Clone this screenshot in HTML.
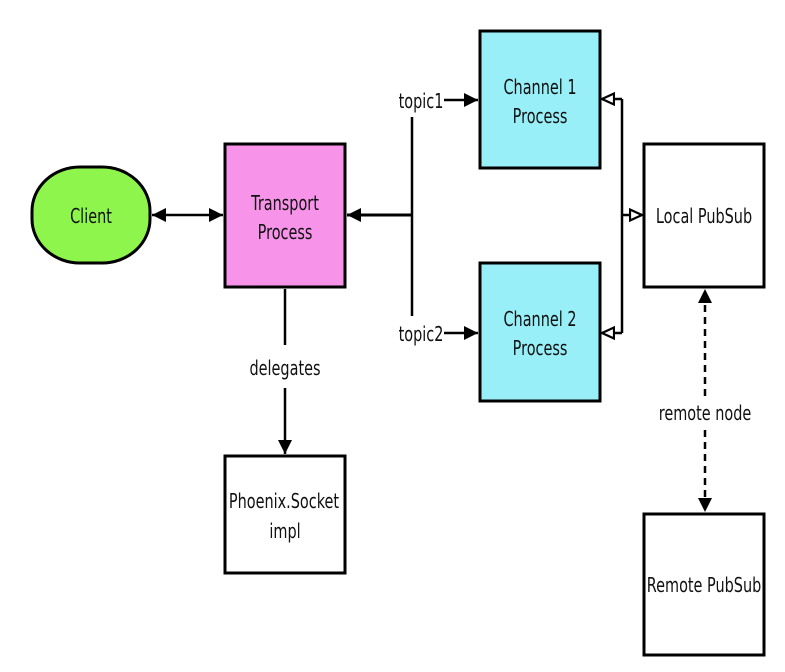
<!DOCTYPE html>
<html><head><meta charset="utf-8"><style>
html,body{margin:0;padding:0;background:#fff;width:785px;height:672px;overflow:hidden}
text{font-family:"DejaVu Sans","Liberation Sans",sans-serif;font-size:17px;fill:#111}
</style></head><body>
<svg width="785" height="672" viewBox="0 0 785 672" xmlns="http://www.w3.org/2000/svg">
<defs>
<marker id="a" viewBox="0 0 14 14" refX="14" refY="7" markerWidth="14" markerHeight="14" markerUnits="userSpaceOnUse" orient="auto-start-reverse"><path d="M0,0 L14,7 L0,14 z" fill="#000"/></marker>
<marker id="h" viewBox="0 0 14 14" refX="13" refY="7" markerWidth="14" markerHeight="14" markerUnits="userSpaceOnUse" orient="auto"><path d="M1,1.5 L13,7 L1,12.5 z" fill="#fff" stroke="#000" stroke-width="2.2"/></marker>
</defs>
<g stroke="#000" stroke-width="3">
<rect x="32" y="167" width="118" height="96" rx="48" ry="44" fill="#8ef54c"/>
<rect x="225" y="144" width="120" height="143" fill="#f794ea"/>
<rect x="480" y="31" width="120" height="137" fill="#98eff7"/>
<rect x="480" y="263" width="120" height="138" fill="#98eff7"/>
<rect x="644" y="144" width="120" height="143" fill="#fff"/>
<rect x="225" y="456" width="120" height="117" fill="#fff"/>
<rect x="644" y="514" width="120" height="141" fill="#fff"/>
</g>
<g stroke="#000" stroke-width="2.5" fill="none">
<line x1="152" y1="215" x2="223" y2="215" marker-start="url(#a)" marker-end="url(#a)"/>
<line x1="412" y1="215" x2="347" y2="215" stroke-width="3" marker-end="url(#a)"/>
<line x1="412" y1="117" x2="412" y2="316"/>
<line x1="444" y1="100" x2="478" y2="100" marker-end="url(#a)"/>
<line x1="444" y1="333" x2="478" y2="333" marker-end="url(#a)"/>
<polyline points="622,99 622,333"/>
<line x1="622" y1="99" x2="602" y2="99" marker-end="url(#h)"/>
<line x1="622" y1="333" x2="602" y2="333" marker-end="url(#h)"/>
<line x1="622" y1="215" x2="642" y2="215" marker-end="url(#h)"/>
<line x1="285" y1="289" x2="285" y2="345"/>
<line x1="285" y1="388" x2="285" y2="454" marker-end="url(#a)"/>
<line x1="705" y1="396" x2="705" y2="289" stroke-dasharray="7,5" marker-end="url(#a)"/>
<line x1="705" y1="430" x2="705" y2="512" stroke-dasharray="7,5" marker-end="url(#a)"/>
</g>
<g text-anchor="middle">
<text transform="translate(91,223) scale(0.85,1.2)">Client</text>
<text transform="translate(285,210) scale(0.85,1.2)">Transport</text>
<text transform="translate(285,239) scale(0.85,1.2)">Process</text>
<text transform="translate(540,94) scale(0.85,1.2)">Channel 1</text>
<text transform="translate(540,123) scale(0.85,1.2)">Process</text>
<text transform="translate(540,326) scale(0.85,1.2)">Channel 2</text>
<text transform="translate(540,355) scale(0.85,1.2)">Process</text>
<text transform="translate(704,223) scale(0.85,1.2)">Local PubSub</text>
<text transform="translate(284,508) scale(0.85,1.2)">Phoenix.Socket</text>
<text transform="translate(285,538) scale(0.85,1.2)">impl</text>
<text transform="translate(704,592) scale(0.85,1.2)">Remote PubSub</text>
<text transform="translate(285,375) scale(0.85,1.2)">delegates</text>
<text transform="translate(705,420) scale(0.85,1.2)">remote node</text>
<text transform="translate(421,108) scale(0.85,1.2)">topic1</text>
<text transform="translate(421,341) scale(0.85,1.2)">topic2</text>
</g>
</svg>
</body></html>
